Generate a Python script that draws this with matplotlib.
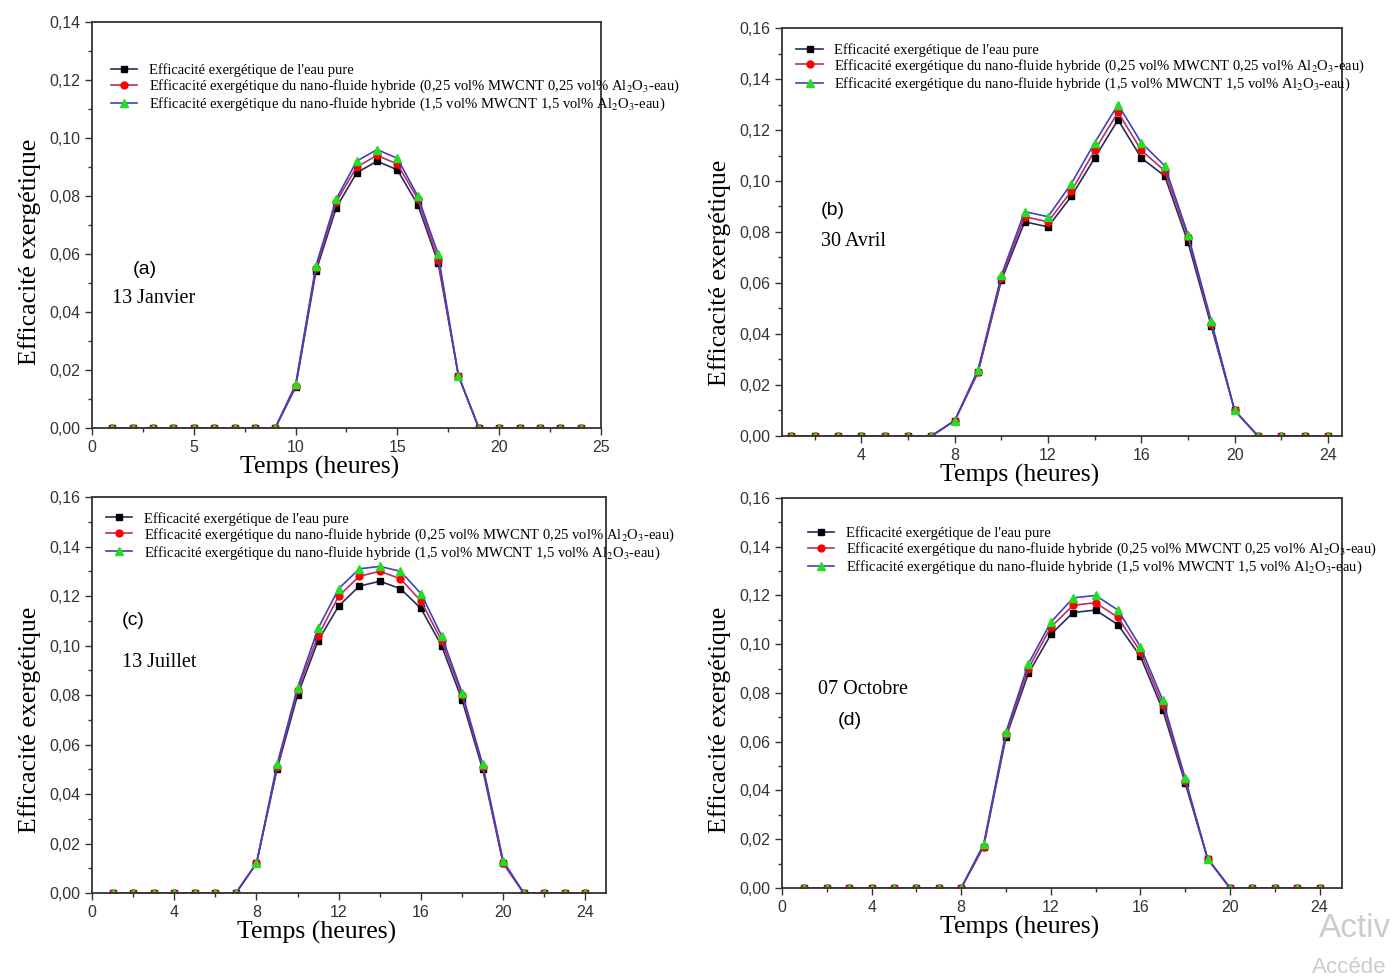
import matplotlib
matplotlib.use("Agg")
import matplotlib.pyplot as plt
from matplotlib.ticker import FuncFormatter, MultipleLocator

plt.rcParams['font.family'] = ['Liberation Sans', 'DejaVu Sans']
plt.rcParams['mathtext.fontset'] = 'stix'

hours = list(range(1, 25))

# (a) 13 Janvier
a_eau = [0, 0, 0, 0, 0, 0, 0, 0, 0, 0.014, 0.054, 0.076, 0.088, 0.092, 0.089, 0.077, 0.057, 0.018, 0, 0, 0, 0, 0, 0]
a_h25 = [0, 0, 0, 0, 0, 0, 0, 0, 0, 0.0145, 0.055, 0.078, 0.090, 0.094, 0.091, 0.079, 0.058, 0.018, 0, 0, 0, 0, 0, 0]
a_h15 = [0, 0, 0, 0, 0, 0, 0, 0, 0, 0.015, 0.056, 0.079, 0.092, 0.096, 0.093, 0.080, 0.060, 0.018, 0, 0, 0, 0, 0, 0]

# (b) 30 Avril
b_eau = [0, 0, 0, 0, 0, 0, 0, 0.006, 0.025, 0.061, 0.084, 0.082, 0.094, 0.109, 0.124, 0.109, 0.102, 0.076, 0.043, 0.010, 0, 0, 0, 0]
b_h25 = [0, 0, 0, 0, 0, 0, 0, 0.006, 0.025, 0.062, 0.086, 0.084, 0.096, 0.112, 0.127, 0.112, 0.104, 0.078, 0.044, 0.010, 0, 0, 0, 0]
b_h15 = [0, 0, 0, 0, 0, 0, 0, 0.006, 0.026, 0.063, 0.088, 0.086, 0.099, 0.115, 0.130, 0.115, 0.106, 0.079, 0.045, 0.010, 0, 0, 0, 0]

# (c) 13 Juillet
c_eau = [0, 0, 0, 0, 0, 0, 0, 0.012, 0.050, 0.080, 0.102, 0.116, 0.124, 0.126, 0.123, 0.115, 0.100, 0.078, 0.050, 0.012, 0, 0, 0, 0]
c_h25 = [0, 0, 0, 0, 0, 0, 0, 0.012, 0.051, 0.082, 0.104, 0.120, 0.128, 0.130, 0.127, 0.118, 0.102, 0.080, 0.051, 0.012, 0, 0, 0, 0]
c_h15 = [0, 0, 0, 0, 0, 0, 0, 0.012, 0.052, 0.083, 0.107, 0.123, 0.131, 0.132, 0.130, 0.121, 0.104, 0.081, 0.052, 0.013, 0, 0, 0, 0]

# (d) 07 Octobre
d_eau = [0, 0, 0, 0, 0, 0, 0, 0, 0.017, 0.062, 0.088, 0.104, 0.113, 0.114, 0.108, 0.095, 0.073, 0.043, 0.012, 0, 0, 0, 0, 0]
d_h25 = [0, 0, 0, 0, 0, 0, 0, 0, 0.017, 0.063, 0.090, 0.107, 0.116, 0.117, 0.111, 0.097, 0.075, 0.044, 0.012, 0, 0, 0, 0, 0]
d_h15 = [0, 0, 0, 0, 0, 0, 0, 0, 0.018, 0.064, 0.092, 0.109, 0.119, 0.120, 0.114, 0.099, 0.077, 0.045, 0.012, 0, 0, 0, 0, 0]

labels = [
    "Efficacité exergétique de l'eau pure",
    "Efficacité exergétique du nano-fluide hybride (0,25 vol% MWCNT 0,25 vol% Al$_2$O$_3$-eau)",
    "Efficacité exergétique du nano-fluide hybride (1,5 vol% MWCNT 1,5 vol% Al$_2$O$_3$-eau)",
]

fig = plt.figure(figsize=(13.96, 9.76), dpi=100)

panels = [
    # rect, data, xlim, ylim, xmajor, xminor, tag, date, tag pos, date pos, legend anchor, xlabel x, ylabel y
    ([0.0659, 0.5615, 0.3646, 0.416], (a_eau, a_h25, a_h15), (0, 25), 0.14, 5, 2.5,
     "(a)", "13 Janvier", (2.0, 0.053), (1.0, 0.043), (0.02, 0.92), 0.448, 0.433),
    ([0.5602, 0.5533, 0.4011, 0.418], (b_eau, b_h25, b_h15), (0.6, 24.6), 0.16, 4, 2,
     "(b)", "30 Avril", (2.25, 0.0865), (2.25, 0.0745), (0.01, 0.985), 0.425, 0.4),
    ([0.0659, 0.085, 0.3682, 0.4057], (c_eau, c_h25, c_h15), (0, 25), 0.16, 4, 2,
     "(c)", "13 Juillet", (1.45, 0.1085), (1.45, 0.0915), (0.01, 0.985), 0.436, 0.437),
    ([0.5602, 0.0902, 0.4011, 0.3996], (d_eau, d_h25, d_h15), (0, 25), 0.16, 4, 2,
     "(d)", "07 Octobre", (2.5, 0.067), (1.6, 0.0795), (0.03, 0.95), 0.425, 0.43),
]

comma = FuncFormatter(lambda v, p: f"{v:.2f}".replace(".", ","))
serif = ['Liberation Serif', 'DejaVu Serif']

for rect, (s1, s2, s3), xl, ytop, xmaj, xmin, tag, date, tpos, dpos, lanchor, xlx, yly in panels:
    ax = fig.add_axes(rect)
    ax.plot(hours, s1, '-s', color='#2a2a60', mfc='black', mec='black', ms=5, lw=1.2, label=labels[0])
    ax.plot(hours, s2, '-o', color='#b83060', mfc='red', mec='red', ms=5, lw=1.2, label=labels[1])
    ax.plot(hours, s3, '-^', color='#4040c0', mfc='#22dd22', mec='#22dd22', ms=6, lw=1.2, label=labels[2])
    ax.set_xlim(*xl)
    ax.set_ylim(0, ytop)
    ax.xaxis.set_major_locator(MultipleLocator(xmaj))
    ax.xaxis.set_minor_locator(MultipleLocator(xmin))
    ax.yaxis.set_major_locator(MultipleLocator(0.02))
    ax.yaxis.set_minor_locator(MultipleLocator(0.01))
    ax.yaxis.set_major_formatter(comma)
    ax.tick_params(which='major', length=5, width=1, labelsize=11.5, colors='#333333')
    ax.tick_params(which='minor', length=3, width=1, colors='#333333')
    for sp in ax.spines.values():
        sp.set_linewidth(1.3)
        sp.set_color('#333333')
    ax.set_xlabel("Temps (heures)", family=serif, fontsize=18.5, labelpad=1)
    ax.set_ylabel("Efficacité exergétique", family=serif, fontsize=18.5, labelpad=6)
    ax.xaxis.label.set_x(xlx)
    ax.yaxis.label.set_y(yly)
    ax.text(tpos[0], tpos[1], tag, fontsize=14)
    ax.text(dpos[0], dpos[1], date, family=serif, fontsize=14.5)
    ax.legend(loc='upper left', bbox_to_anchor=lanchor, frameon=False,
              prop={'family': serif, 'size': 10.5}, handlelength=1.8,
              labelspacing=0.05, borderaxespad=0.2)

fig.text(0.945, 0.04, "Activ", color='#cccccc', fontsize=24)
fig.text(0.94, 0.003, "Accéde", color='#cccccc', fontsize=16)

fig.savefig("out.png", dpi=100)
